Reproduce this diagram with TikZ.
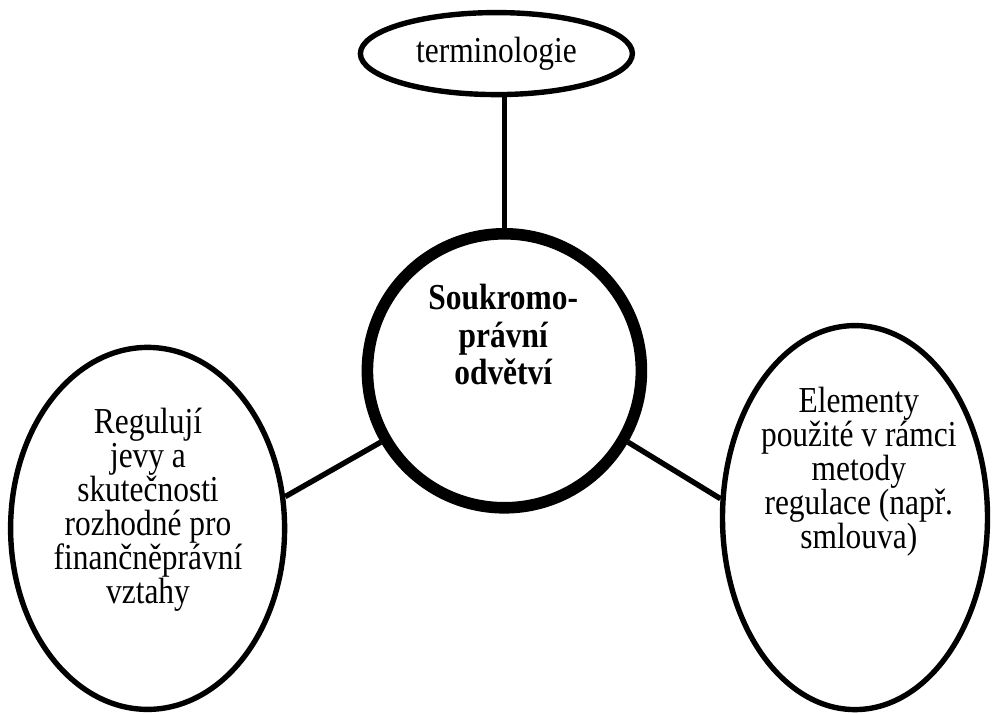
\documentclass[tikz,border=0pt]{standalone}
\usepackage{fontspec}
\setmainfont{Liberation Serif}[FakeStretch=0.86]
\usetikzlibrary{shapes.geometric}
\begin{document}
\begin{tikzpicture}[
  bubble/.style={draw, ellipse, line width=0.135cm, inner sep=0pt},
  hub/.style={draw, circle, line width=0.29cm, inner sep=0pt, minimum size=6.85cm},
  txt/.style={align=center, font=\fontsize{26}{24.2}\selectfont},
  link/.style={line width=0.135cm}]
  \useasboundingbox (0,0) rectangle (24.8,17.85);
  \node[hub] (soukr) at (12.61,8.58) {};
  \node[txt, font=\fontsize{26}{26.7}\selectfont\bfseries] (soukrtxt) at (12.58,9.48) {Soukromo-\\právní\\odvětví};
  \node[bubble, txt, minimum width=6.8cm, minimum height=2.05cm] (term) at (12.41,16.51) {terminologie};
  \node[bubble, minimum width=6.85cm, minimum height=9.05cm] (left) at (3.69,4.64) {};
  \node[txt] (lefttxt) at (3.7,5.1) {Regulují\\jevy a\\skutečnosti\\rozhodné pro\\finančněprávní\\vztahy};
  \node[bubble, minimum width=6.625cm, minimum height=9.6cm] (right) at (21.375,4.91) {};
  \node[txt] (righttxt) at (21.47,6.05) {Elementy\\použité v rámci\\metody\\regulace (např.\\smlouva)};
  \draw[link] (soukr.north) -- (soukr.north |- term.south);
  \draw[link] (soukr.210) -- (left.13);
  \draw[link] (soukr.-30) -- (right.172);
\end{tikzpicture}
\end{document}
